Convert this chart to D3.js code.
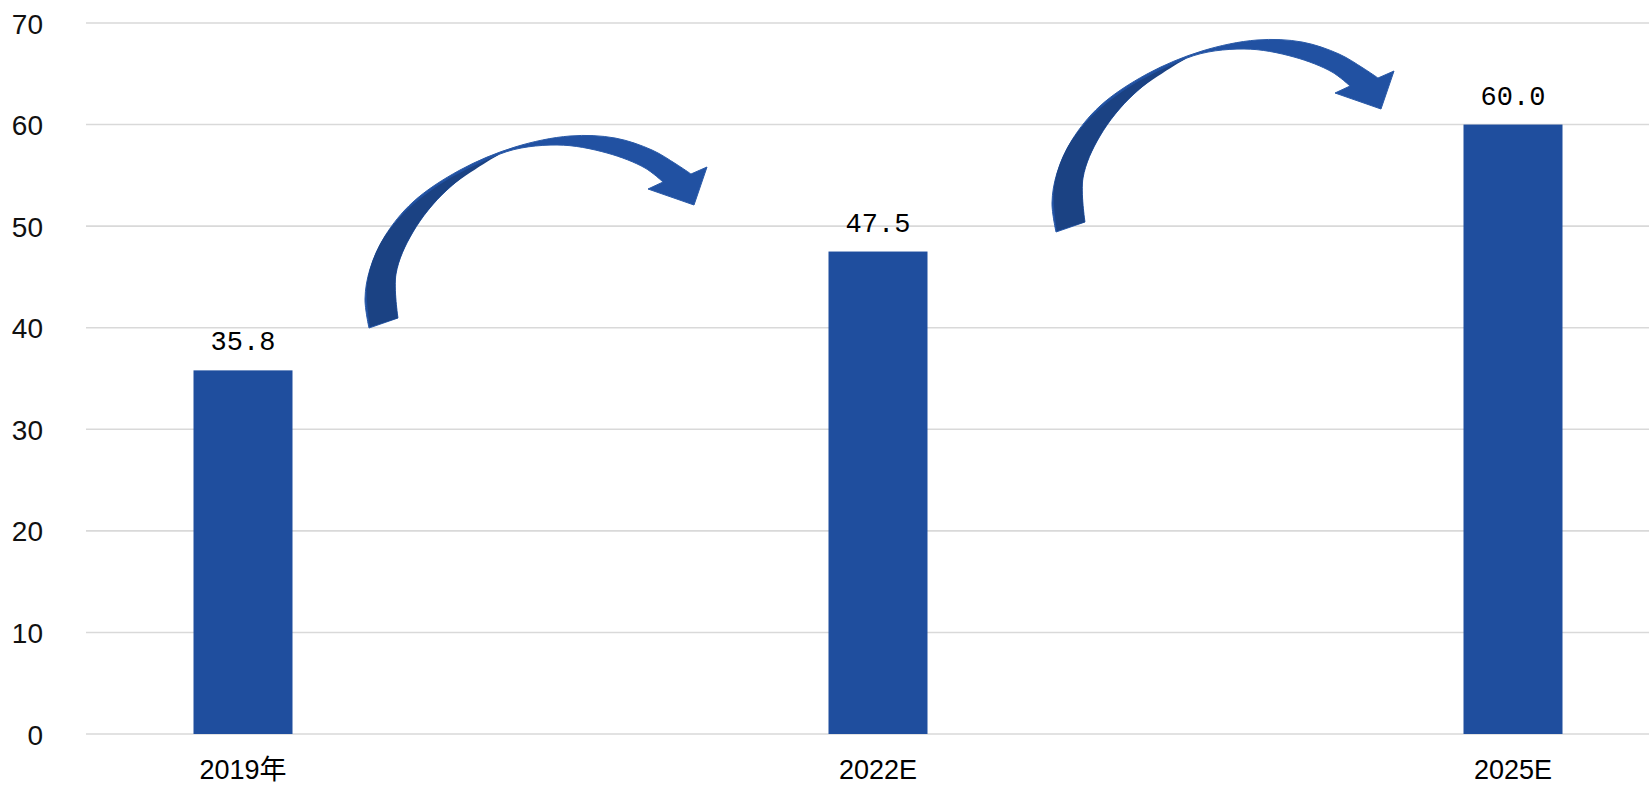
<!DOCTYPE html>
<html>
<head>
<meta charset="utf-8">
<script src="https://cdn.jsdelivr.net/npm/d3@7"></script>
<style>
  html, body { margin: 0; padding: 0; background: #fff; }
  svg { display: block; }
</style>
</head>
<body>
<svg id="chart" width="1649" height="786"></svg>
<script>
// data
var categories = ['2019年', '2022E', '2025E'];
var values = [35.8, 47.5, 60.0];
var yTicks = [0, 10, 20, 30, 40, 50, 60, 70];

var width = 1649;
var height = 786;
var gridLeft = 86;
var barWidth = 99;
var barColor = '#1f4e9e';

var svg = d3.select('#chart');

var x = d3.scalePoint()
  .domain(categories)
  .range([243, 1513]);

var y = d3.scaleLinear()
  .domain([0, 70])
  .range([734, 23]);

// gridlines
svg.append('g')
  .selectAll('line')
  .data(yTicks)
  .enter()
  .append('line')
  .attr('x1', gridLeft)
  .attr('x2', width)
  .attr('y1', d => y(d))
  .attr('y2', d => y(d))
  .attr('stroke', '#d9d9d9')
  .attr('stroke-width', 1.6);

// y axis labels (no domain line, no ticks)
var yAxis = svg.append('g')
  .attr('transform', 'translate(43,0)')
  .call(d3.axisLeft(y).tickValues(yTicks).tickSize(0).tickPadding(0));
yAxis.select('.domain').remove();
yAxis.selectAll('text')
  .attr('font-family', '"Liberation Sans", Arial, sans-serif')
  .attr('font-size', '28px')
  .attr('fill', '#111')
  .attr('dy', '0.36em');

// bars
svg.append('g')
  .selectAll('rect')
  .data(values)
  .enter()
  .append('rect')
  .attr('x', (d, i) => x(categories[i]) - barWidth / 2)
  .attr('y', d => y(d))
  .attr('width', barWidth)
  .attr('height', d => y(0) - y(d))
  .attr('fill', barColor);

// value labels
svg.append('g')
  .selectAll('text')
  .data(values)
  .enter()
  .append('text')
  .attr('x', (d, i) => x(categories[i]))
  .attr('y', d => y(d) - 20)
  .attr('text-anchor', 'middle')
  .attr('font-family', '"Liberation Mono", "DejaVu Sans Mono", monospace')
  .attr('font-size', '27px')
  .attr('fill', '#000')
  .text(d => d.toFixed(1));

// category labels
svg.append('g')
  .selectAll('text')
  .data(categories)
  .enter()
  .append('text')
  .attr('x', d => x(d))
  .attr('y', 779)
  .attr('text-anchor', 'middle')
  .attr('font-family', '"Liberation Sans", Arial, "Noto Sans CJK SC", sans-serif')
  .attr('font-size', '27px')
  .attr('fill', '#000')
  .text(d => d);

// curved arrows between the bars (shape in local coords, origin near the tail)
var outer = [[4,194],[0,165],[5,135],[20,102],[48,68],[95,36],[150,13],[205,2],[250,4],[287,16],[311,30],[326,40]];
var head = [[342,33],[329,71],[283,55]];
var inner = [[298,48],[280,34],[242,19],[192,11],[135,20],[82,56],[48,98],[31,140],[33,184]];
var darkFace = [[5,193],[2,150],[14,112],[40,78],[82,46],[135,20],[82,56],[48,98],[31,140],[33,184]];

var curve = d3.line().curve(d3.curveCatmullRom.alpha(0.5));

function arrowPath() {
  var p = curve(outer);
  head.forEach(pt => { p += 'L' + pt[0] + ',' + pt[1]; });
  p += curve(inner).replace(/^M/, 'L');
  return p + 'Z';
}

function darkPath() {
  var p = curve(darkFace.slice(0, 6));
  p += curve(darkFace.slice(5)).replace(/^M/, 'L');
  return p + 'Z';
}

var arrows = [
  { tx: 365, ty: 134 },
  { tx: 1052, ty: 38 }
];

var ag = svg.append('g')
  .selectAll('g')
  .data(arrows)
  .enter()
  .append('g')
  .attr('transform', d => 'translate(' + d.tx + ',' + d.ty + ')');

ag.append('path')
  .attr('d', arrowPath())
  .attr('fill', '#2151a2')
  .attr('stroke', '#2a5aa8')
  .attr('stroke-width', 1);

ag.append('path')
  .attr('d', darkPath())
  .attr('fill', '#1b4283');
</script>
</body>
</html>
